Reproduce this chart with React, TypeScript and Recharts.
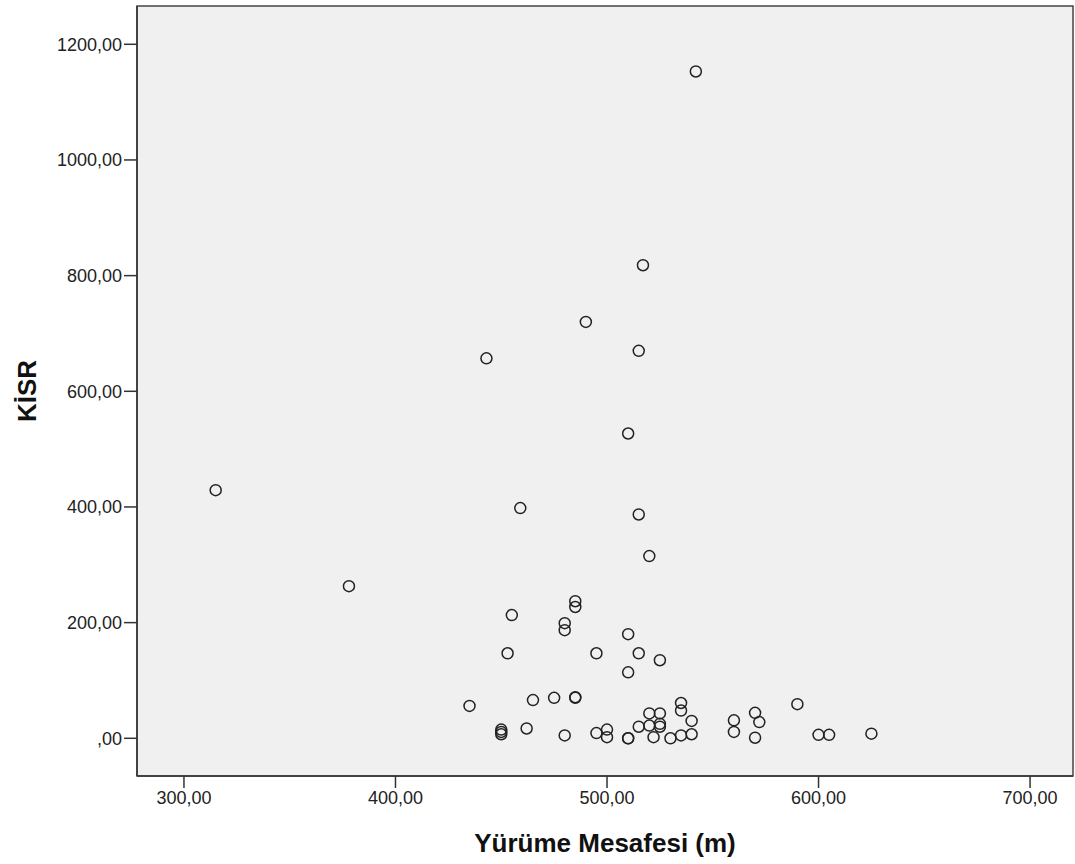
import { ScatterChart, Scatter, XAxis, YAxis, ReferenceArea } from "recharts";

// Yürüme mesafesi (m)
const walkDistance = [
  315, 378, 435, 443, 450, 450, 450, 453, 455, 459, 462, 465, 475, 480, 480,
  480, 485, 485, 485, 485, 490, 495, 495, 500, 500, 510, 510, 510, 510, 510,
  515, 515, 515, 515, 517, 520, 520, 520, 522, 525, 525, 525, 525, 530, 535,
  535, 535, 540, 540, 542, 560, 560, 570, 570, 572, 590, 600, 605, 625,
];

// KİSR
const kisr = [
  429, 263, 56, 657, 15, 11, 7, 147, 213, 398, 17, 66, 70, 5, 199,
  187, 237, 227, 71, 70, 720, 147, 9, 15, 2, 0, 0, 527, 180, 114,
  20, 670, 387, 147, 818, 315, 43, 22, 2, 43, 25, 20, 135, 0, 61,
  48, 5, 30, 7, 1153, 31, 11, 44, 1, 28, 59, 6, 6, 8,
];

const xTicks = [300, 400, 500, 600, 700];
const yTicks = [0, 200, 400, 600, 800, 1000, 1200];
const xDomain: [number, number] = [277.8, 720.3];
const yDomain: [number, number] = [-65.2, 1266.2];

const points = walkDistance.map((x, i) => ({ x, y: kisr[i] }));

const fmt = (v: number) => (v === 0 ? ",00" : v.toFixed(2).replace(".", ","));

const tickStyle = { fontFamily: "'Liberation Sans', Arial, sans-serif", fontSize: 18, fill: "#222" };
const titleStyle = {
  fontFamily: "'Liberation Sans', Arial, sans-serif",
  fontSize: 26,
  fontWeight: 700,
  fill: "#111",
};

function Ring(props: { cx?: number; cy?: number }) {
  const { cx, cy } = props;
  if (cx == null || cy == null) return null;
  return <circle cx={cx} cy={cy} r={5.5} fill="none" stroke="#222" strokeWidth={1.5} />;
}

export default function App() {
  return (
    <div style={{ position: "absolute", left: 0, top: 0, background: "#fff" }}>
      <ScatterChart width={1075} height={864} margin={{ top: 6, right: 2, bottom: 0, left: 0 }}>
        <ReferenceArea
          x1={xDomain[0]}
          x2={xDomain[1]}
          y1={yDomain[0]}
          y2={yDomain[1]}
          fill="#f0f0f0"
          fillOpacity={1}
          stroke="#444"
          strokeWidth={1.5}
          ifOverflow="visible"
        />
        <XAxis
          type="number"
          dataKey="x"
          domain={xDomain}
          ticks={xTicks}
          allowDataOverflow
          tickFormatter={fmt}
          tick={tickStyle}
          tickSize={12}
          tickMargin={3}
          height={88}
          axisLine={{ stroke: "#333", strokeWidth: 1.5 }}
          tickLine={{ stroke: "#333", strokeWidth: 1.5 }}
          label={{ value: "Yürüme Mesafesi (m)", position: "insideBottom", offset: 12, style: titleStyle }}
        />
        <YAxis
          type="number"
          dataKey="y"
          domain={yDomain}
          ticks={yTicks}
          allowDataOverflow
          tickFormatter={fmt}
          tick={tickStyle}
          tickSize={13}
          tickMargin={2}
          width={137}
          axisLine={{ stroke: "#333", strokeWidth: 1.5 }}
          tickLine={{ stroke: "#333", strokeWidth: 1.5 }}
          label={{
            content: () => (
              <text transform="translate(36,391) rotate(-90)" textAnchor="middle" style={titleStyle}>
                KİSR
              </text>
            ),
          }}
        />
        <Scatter data={points} shape={<Ring />} isAnimationActive={false} />
      </ScatterChart>
    </div>
  );
}
